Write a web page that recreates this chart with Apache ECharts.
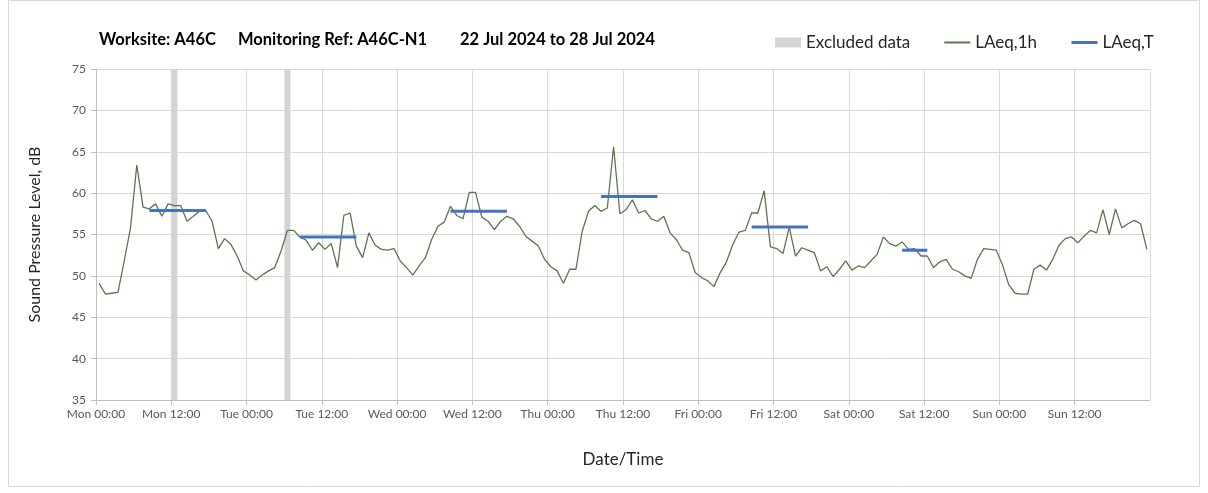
<!DOCTYPE html>
<html>
<head>
<meta charset="utf-8">
<script src="https://cdn.jsdelivr.net/npm/echarts@6/dist/echarts.min.js"></script>
<style>
  html, body { margin: 0; padding: 0; background: #fff; }
  #chart { width: 1208px; height: 493px; }
</style>
</head>
<body>
<div id="chart"></div>
<script>
  // hourly LAeq,1h, Mon 00:00 .. Sun 23:00
  let hourly = [
    49.1, 47.8, 47.9, 48.0, 51.8, 55.8, 63.4, 58.3, 58.1, 58.7, 57.2, 58.7,
    58.5, 58.5, 56.6, 57.2, 57.8, 57.9, 56.6, 53.3, 54.5, 53.8, 52.4, 50.6,
    50.1, 49.5, 50.1, 50.6, 51.0, 53.0, 55.5, 55.5, 54.7, 54.3, 53.1, 54.0,
    53.2, 53.9, 51.0, 57.3, 57.6, 53.6, 52.2, 55.2, 53.7, 53.2, 53.1, 53.3,
    51.8, 51.0, 50.1, 51.2, 52.2, 54.4, 56.0, 56.5, 58.4, 57.3, 56.9, 60.1,
    60.1, 57.1, 56.6, 55.6, 56.6, 57.2, 56.9, 56.0, 54.8, 54.2, 53.6, 52.0,
    51.1, 50.6, 49.1, 50.8, 50.8, 55.4, 57.8, 58.5, 57.8, 58.2, 65.6, 57.5,
    58.0, 59.2, 57.6, 57.9, 56.9, 56.6, 57.2, 55.2, 54.4, 53.1, 52.8, 50.4,
    49.8, 49.4, 48.7, 50.4, 51.7, 53.8, 55.3, 55.5, 57.6, 57.6, 60.3, 53.5,
    53.3, 52.7, 55.9, 52.4, 53.4, 53.1, 52.8, 50.6, 51.1, 49.9, 50.8, 51.8,
    50.7, 51.2, 51.0, 51.8, 52.6, 54.7, 53.9, 53.6, 54.1, 53.2, 53.3, 52.4,
    52.4, 51.0, 51.7, 52.0, 50.8, 50.5, 50.0, 49.7, 52.0, 53.3, 53.2, 53.1,
    51.3, 48.9, 47.9, 47.8, 47.8, 50.8, 51.3, 50.7, 52.0, 53.7, 54.5, 54.7,
    54.0, 54.8, 55.5, 55.2, 58.0, 55.0, 58.1, 55.8, 56.3, 56.7, 56.3, 53.2
  ];

  // LAeq,T per daytime period (hours from Mon 00:00)
  let periodStart = [8.5, 32.5, 56.5, 80.5, 104.5, 128.5];
  let periodEnd = [17.5, 41.5, 65.5, 89.5, 113.5, 132.5];
  let periodLevel = [57.9, 54.7, 57.8, 59.6, 55.9, 53.1];

  // excluded hours (hours from Mon 00:00)
  let excludedHours = [12, 30];

  let days = ['Mon', 'Tue', 'Wed', 'Thu', 'Fri', 'Sat', 'Sun'];
  let yTicks = { min: 35, max: 75, interval: 5 };

  let font = 'Lato, "Open Sans", sans-serif';
  let myChart = echarts.init(document.getElementById('chart'));

  let series = [];

  series.push({
    name: 'Excluded data',
    type: 'bar',
    barWidth: 6,
    itemStyle: { color: '#d4d4d4' },
    z: 1,
    data: excludedHours.map(h => [h + 0.5, yTicks.max])
  });

  series.push({
    name: 'LAeq,1h',
    type: 'line',
    symbol: 'none',
    lineStyle: { color: '#58784a', width: 1.3 },
    itemStyle: { color: '#58784a' },
    z: 3,
    data: hourly.map((v, i) => [i + 0.5, v])
  });

  for (let i in periodStart) {
    series.push({
      name: 'LAeq,T',
      type: 'line',
      symbol: 'none',
      lineStyle: { color: '#4472c4', width: 3 },
      itemStyle: { color: '#4472c4' },
      z: 4,
      data: [
        [periodStart[i], periodLevel[i]],
        [periodEnd[i], periodLevel[i]]
      ]
    });
  }

  let titleStyle = { fontFamily: font, fontSize: 16.5, fontWeight: 'bold', color: '#000' };

  let option = {
    animation: false,
    textStyle: { fontFamily: font },
    title: [
      { text: 'Worksite: A46C', left: 94, top: 26, textStyle: titleStyle },
      { text: 'Monitoring Ref: A46C-N1', left: 233, top: 26, textStyle: titleStyle },
      { text: '22 Jul 2024 to 28 Jul 2024', left: 455, top: 26, textStyle: titleStyle }
    ],
    legend: {
      left: 770,
      top: 29,
      itemWidth: 26,
      itemHeight: 10,
      itemGap: 33,
      textStyle: { fontFamily: font, fontSize: 17, color: '#262626' },
      data: [
        { name: 'Excluded data', icon: 'rect' },
        { name: 'LAeq,1h', itemStyle: { opacity: 0 } },
        { name: 'LAeq,T', itemStyle: { opacity: 0 }, lineStyle: { width: 3 } }
      ]
    },
    graphic: [{
      type: 'rect',
      shape: { x: 8.5, y: 0.5, width: 1191, height: 486 },
      style: { fill: 'none', stroke: '#d9d9d9', lineWidth: 1 },
      silent: true
    }],
    grid: {
      left: 96,
      right: 58,
      top: 69,
      bottom: 93
    },
    xAxis: {
      type: 'value',
      min: 0,
      max: 168,
      interval: 12,
      name: 'Date/Time',
      nameLocation: 'middle',
      nameGap: 51,
      nameTextStyle: { fontSize: 17, color: '#262626' },
      axisLine: { lineStyle: { color: '#bfbfbf' } },
      axisTick: { show: true, length: 5, lineStyle: { color: '#bfbfbf' } },
      splitLine: { show: true, lineStyle: { color: '#d9d9d9' } },
      axisLabel: {
        fontSize: 12,
        color: '#595959',
        margin: 8,
        showMaxLabel: false,
        formatter: v => days[Math.floor(v / 24)] + (v % 24 === 0 ? ' 00:00' : ' 12:00')
      }
    },
    yAxis: {
      type: 'value',
      min: yTicks.min,
      max: yTicks.max,
      interval: yTicks.interval,
      name: 'Sound Pressure Level, dB',
      nameLocation: 'middle',
      nameGap: 53,
      nameTextStyle: { fontSize: 16, color: '#262626' },
      axisLine: { show: true, lineStyle: { color: '#bfbfbf' } },
      axisTick: { show: true, length: 5, lineStyle: { color: '#bfbfbf' } },
      splitLine: { lineStyle: { color: '#d9d9d9' } },
      axisLabel: { fontSize: 12, color: '#595959', margin: 10 }
    },
    series: series
  };

  myChart.setOption(option);
</script>
</body>
</html>
